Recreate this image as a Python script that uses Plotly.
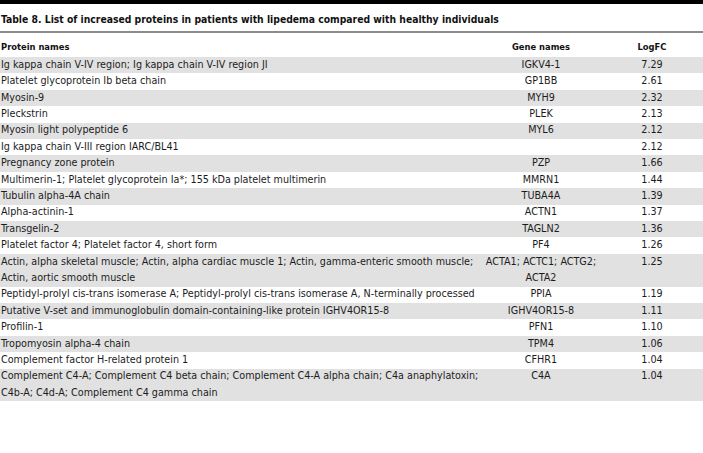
import plotly.graph_objects as go

title_text = "Table 8. List of increased proteins in patients with lipedema compared with healthy individuals"
headers = ["Protein names", "Gene names", "LogFC"]

protein_names = [
    "Ig kappa chain V-IV region; Ig kappa chain V-IV region JI",
    "Platelet glycoprotein Ib beta chain",
    "Myosin-9",
    "Pleckstrin",
    "Myosin light polypeptide 6",
    "Ig kappa chain V-III region IARC/BL41",
    "Pregnancy zone protein",
    "Multimerin-1; Platelet glycoprotein Ia*; 155 kDa platelet multimerin",
    "Tubulin alpha-4A chain",
    "Alpha-actinin-1",
    "Transgelin-2",
    "Platelet factor 4; Platelet factor 4, short form",
    "Actin, alpha skeletal muscle; Actin, alpha cardiac muscle 1; Actin, gamma-enteric smooth muscle;<br>Actin, aortic smooth muscle",
    "Peptidyl-prolyl cis-trans isomerase A; Peptidyl-prolyl cis-trans isomerase A, N-terminally processed",
    "Putative V-set and immunoglobulin domain-containing-like protein IGHV4OR15-8",
    "Profilin-1",
    "Tropomyosin alpha-4 chain",
    "Complement factor H-related protein 1",
    "Complement C4-A; Complement C4 beta chain; Complement C4-A alpha chain; C4a anaphylatoxin;<br>C4b-A; C4d-A; Complement C4 gamma chain",
]

gene_names = [
    "IGKV4-1", "GP1BB", "MYH9", "PLEK", "MYL6", "", "PZP", "MMRN1", "TUBA4A",
    "ACTN1", "TAGLN2", "PF4", "ACTA1; ACTC1; ACTG2;<br>ACTA2", "PPIA",
    "IGHV4OR15-8", "PFN1", "TPM4", "CFHR1", "C4A",
]

logfc = [
    "7.29", "2.61", "2.32", "2.13", "2.12", "2.12", "1.66", "1.44", "1.39",
    "1.37", "1.36", "1.26", "1.25", "1.19", "1.11", "1.10", "1.06", "1.04", "1.04",
]

# ---- layout constants (pixels) ----
W, H = 703, 453
LH = 16.4            # height of one text line / single row
TABLE_TOP = 57       # top of first body row
TABLE_BOTTOM = 401   # bottom of plotting area
GRAY = "#e1e1e1"
WHITE = "#ffffff"
TEXT = "#1c1c1c"
FONT = "DejaVu Sans Condensed, sans-serif"
COL_X = [1 / W, 541 / W, 652 / W]
COL_POS = ["middle right", "middle center", "middle center"]

# ---- row geometry in "line" units ----
columns = [protein_names, gene_names, logfc]
n_lines = [max(col[i].count("<br>") + 1 for col in columns) for i in range(len(protein_names))]
tops = []
acc = 0
for n in n_lines:
    tops.append(acc)
    acc += n
centers = [t + n / 2 for t, n in zip(tops, n_lines)]
row_fill = [GRAY if i % 2 == 0 else WHITE for i in range(len(protein_names))]

fig = go.Figure()

# row backgrounds
fig.add_trace(go.Bar(
    y=centers, x=[1] * len(centers), base=0, width=n_lines, orientation="h",
    marker=dict(color=row_fill, line=dict(width=0)), hoverinfo="skip", showlegend=False,
))

# cell texts (one text item per line of each cell)
for ci, col in enumerate(columns):
    xs, ys, ts = [], [], []
    for i, txt in enumerate(col):
        for k, line in enumerate(txt.split("<br>")):
            if line:
                xs.append(COL_X[ci])
                ys.append(tops[i] + k + 0.5)
                ts.append(line)
    fig.add_trace(go.Scatter(
        x=xs, y=ys, text=ts, mode="text", textposition=COL_POS[ci],
        textfont=dict(family=FONT, size=10.7, color=TEXT),
        hoverinfo="skip", showlegend=False, cliponaxis=False,
    ))

# header texts
fig.add_trace(go.Scatter(
    x=COL_X, y=[-0.55] * 3, text=[f"<b>{h}</b>" for h in headers], mode="text",
    textposition=COL_POS, textfont=dict(family=FONT, size=9.3, color="#111111"),
    hoverinfo="skip", showlegend=False, cliponaxis=False,
))

# top black bar, title and rule
fig.add_shape(type="rect", xref="paper", yref="paper", x0=0, x1=1,
              y0=1 - 4 / TABLE_BOTTOM, y1=1.01, fillcolor="#000000", line_width=0)
fig.add_shape(type="line", xref="paper", yref="paper", x0=0, x1=1,
              y0=1 - 32 / TABLE_BOTTOM, y1=1 - 32 / TABLE_BOTTOM,
              line=dict(color="#666666", width=1.5))
fig.add_annotation(text=f"<b>{title_text}</b>", xref="paper", yref="paper",
                   x=0, y=1 - 19 / TABLE_BOTTOM, xanchor="left", yanchor="middle",
                   xshift=-1, showarrow=False,
                   font=dict(family=FONT, size=10.3, color="#111111"))

fig.update_layout(
    width=W, height=H, margin=dict(l=0, r=0, t=0, b=H - TABLE_BOTTOM, pad=0),
    paper_bgcolor="white", plot_bgcolor="white", bargap=0, hovermode=False,
    xaxis=dict(range=[0, 1], visible=False, fixedrange=True),
    yaxis=dict(range=[(TABLE_BOTTOM - TABLE_TOP) / LH, -TABLE_TOP / LH],
               visible=False, fixedrange=True),
)

fig.write_html("out.html", config={"displayModeBar": False},
               post_script="document.body.style.margin='0';")
